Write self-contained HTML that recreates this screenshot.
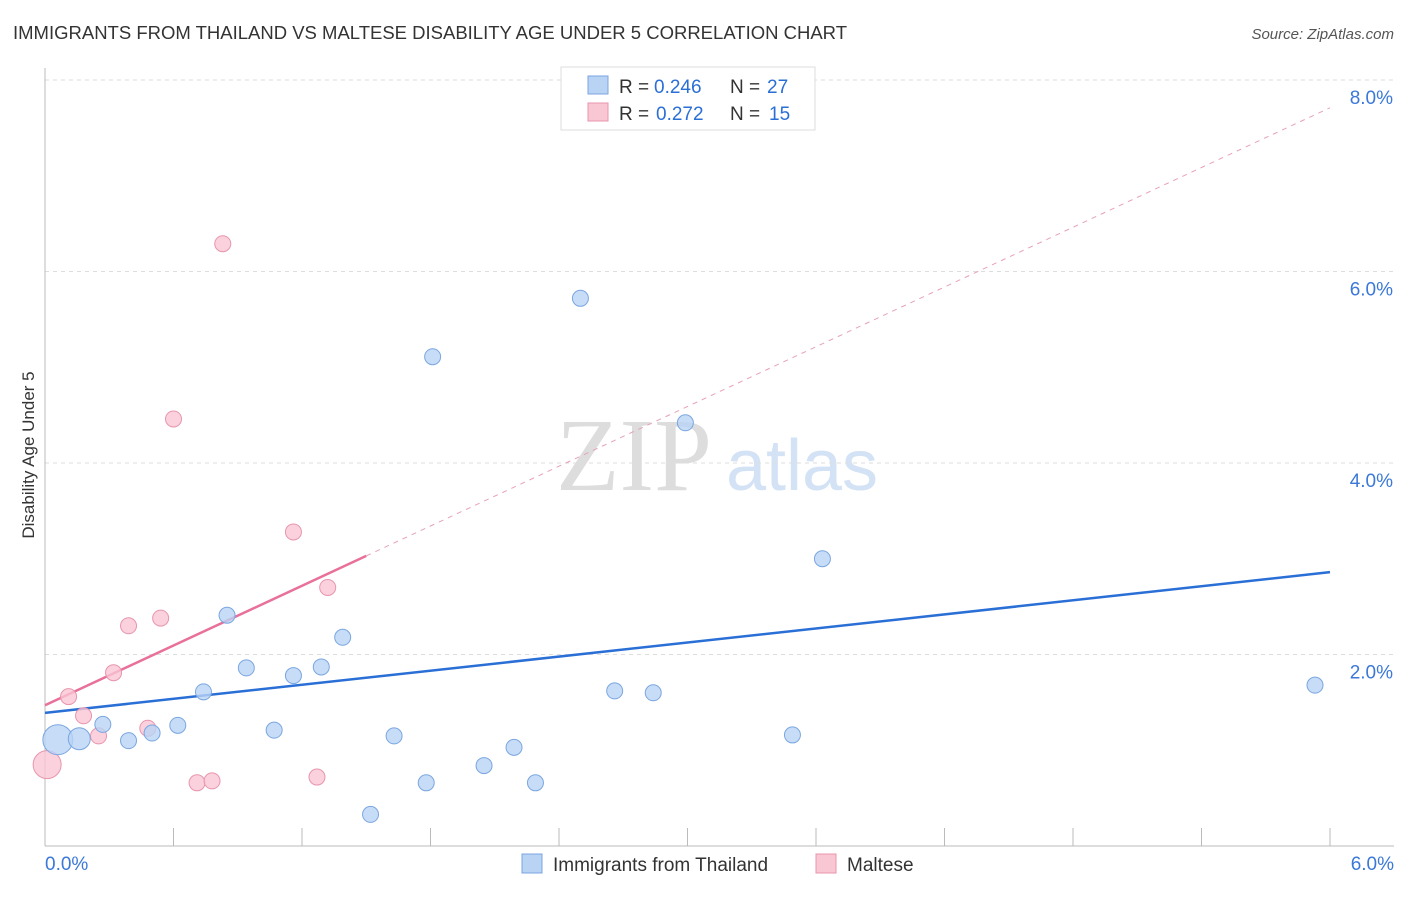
<!DOCTYPE html>
<html><head><meta charset="utf-8"><style>
body{margin:0;background:#fff;font-family:"Liberation Sans",sans-serif;}
</style></head><body>
<svg id="chart" width="1406" height="892" xmlns="http://www.w3.org/2000/svg" font-family="Liberation Sans, sans-serif">
<text x="13" y="39" font-size="18" fill="#333" textLength="834" lengthAdjust="spacingAndGlyphs">IMMIGRANTS FROM THAILAND VS MALTESE DISABILITY AGE UNDER 5 CORRELATION CHART</text>
<text x="1394" y="39" font-size="15" fill="#555" text-anchor="end" font-style="italic">Source: ZipAtlas.com</text>
<text transform="translate(34,455) rotate(-90)" font-size="17" fill="#333" text-anchor="middle">Disability Age Under 5</text>
<g>
<text x="634" y="490" font-size="104" fill="#ddd" text-anchor="middle" font-family="Liberation Serif, serif">ZIP</text>
<text x="802" y="490" font-size="72" fill="#d3e2f5" text-anchor="middle">atlas</text>
</g>
<g id="grid"></g><g id="axes"></g><g id="lines"></g><g id="points"></g>
<g>
<rect x="561" y="67" width="254" height="63" fill="#fff" stroke="#ddd"/>
<rect x="588" y="76" width="20" height="18" fill="#b9d3f5" stroke="#7aa6e0"/>
<text y="93" font-size="19" fill="#333"><tspan x="619">R =</tspan><tspan x="654" fill="#2a6fd6">0.246</tspan><tspan x="730">N =</tspan><tspan x="767" fill="#2a6fd6">27</tspan></text>
<rect x="588" y="103" width="20" height="18" fill="#f9c6d4" stroke="#e895ad"/>
<text y="120" font-size="19" fill="#333"><tspan x="619">R =</tspan><tspan x="656" fill="#2a6fd6">0.272</tspan><tspan x="730">N =</tspan><tspan x="769" fill="#2a6fd6">15</tspan></text>
</g>
<g>
<rect x="522" y="854" width="20" height="19" fill="#b9d3f5" stroke="#7aa6e0"/>
<text x="553" y="871" font-size="19" fill="#333">Immigrants from Thailand</text>
<rect x="816" y="854" width="20" height="19" fill="#f9c6d4" stroke="#e895ad"/>
<text x="847" y="871" font-size="19" fill="#333">Maltese</text>
</g>
</svg>
<script>
const blueX=[0.06,0.16,0.27,0.39,0.50,0.62,0.74,0.85,0.94,1.07,1.16,1.29,1.39,1.52,1.63,1.78,1.81,2.05,2.19,2.29,2.50,2.66,2.84,2.99,3.49,3.63,5.93];
const blueY=[1.11,1.12,1.27,1.10,1.18,1.26,1.61,2.41,1.86,1.21,1.78,1.87,2.18,0.33,1.15,0.66,5.11,0.84,1.03,0.66,5.72,1.62,1.60,4.42,1.16,3.00,1.68];
const blueR=[15,11,8,8,8,8,8,8,8,8,8,8,8,8,8,8,8,8,8,8,8,8,8,8,8,8,8];
const pinkX=[0.01,0.11,0.18,0.25,0.32,0.39,0.48,0.54,0.60,0.71,0.78,0.83,1.16,1.27,1.32];
const pinkY=[0.85,1.56,1.36,1.15,1.81,2.30,1.23,2.38,4.46,0.66,0.68,6.29,3.28,0.72,2.70];
const pinkR=[14,8,8,8,8,8,8,8,8,8,8,8,8,8,8];
const blueFit=[1.39,0.245];
const pinkFit=[1.47,1.04];
const xTicks=[0,0.6,1.2,1.8,2.4,3.0,3.6,4.2,4.8,5.4,6.0];
const yTicks=[2,4,6,8];
const yTickLabels=["2.0%","4.0%","6.0%","8.0%"];
const NS="http://www.w3.org/2000/svg";
const sx=v=>45+v*1285/6, sy=v=>846-v*95.75;
function mk(tag,attrs,parent){const e=document.createElementNS(NS,tag);for(const k in attrs)e.setAttribute(k,attrs[k]);document.getElementById(parent).appendChild(e);return e;}
yTicks.forEach((t,i)=>{
 const g=mk('line',{x1:45,x2:1394,y1:sy(t),y2:sy(t),stroke:'#ddd','stroke-dasharray':'4,4'},'grid');
 
 
 const l=mk('text',{x:1393,y:sy(t)+24,'font-size':19,fill:'#3b78d8','text-anchor':'end'},'grid');
 l.textContent=yTickLabels[i];
 
 
});
const ax=mk('line',{x1:45,x2:45,y1:68,y2:846,stroke:'#bbb'},'axes');


const bx=mk('line',{x1:45,x2:1394,y1:846,y2:846,stroke:'#bbb'},'axes');


xTicks.forEach(t=>{
 const k=mk('line',{x1:sx(t),x2:sx(t),y1:828,y2:846,stroke:'#bbb'},'axes');
 
 
});
[[0,'0.0%','start',45],[6,'6.0%','end',1394]].forEach(a=>{
 const t=mk('text',{x:a[3],y:870,'font-size':19,fill:'#3b78d8','text-anchor':a[2]},'axes');
 t.textContent=a[1];
 
 
});
const bl=mk('line',{x1:sx(0),y1:sy(blueFit[0]),x2:sx(6),y2:sy(blueFit[0]+6*blueFit[1]),stroke:'#2a6fd6','stroke-width':2.5},'lines');


const pl=mk('line',{x1:sx(0),y1:sy(pinkFit[0]),x2:sx(1.5),y2:sy(pinkFit[0]+1.5*pinkFit[1]),stroke:'#e8709a','stroke-width':2.5},'lines');


const pd=mk('line',{x1:sx(1.5),y1:sy(pinkFit[0]+1.5*pinkFit[1]),x2:sx(6),y2:sy(pinkFit[0]+6*pinkFit[1]),stroke:'#e8a0b8','stroke-width':1,'stroke-dasharray':'5,5'},'lines');


pinkX.forEach((x,i)=>{
 const c=mk('circle',{cx:sx(x),cy:sy(pinkY[i]),r:pinkR[i],fill:'#f9c6d4','fill-opacity':0.8,stroke:'#e895ad'},'points');
 
 
});
blueX.forEach((x,i)=>{
 const c=mk('circle',{cx:sx(x),cy:sy(blueY[i]),r:blueR[i],fill:'#b9d3f5','fill-opacity':0.8,stroke:'#7aa6e0'},'points');
 
 
});
</script>
</body></html>
